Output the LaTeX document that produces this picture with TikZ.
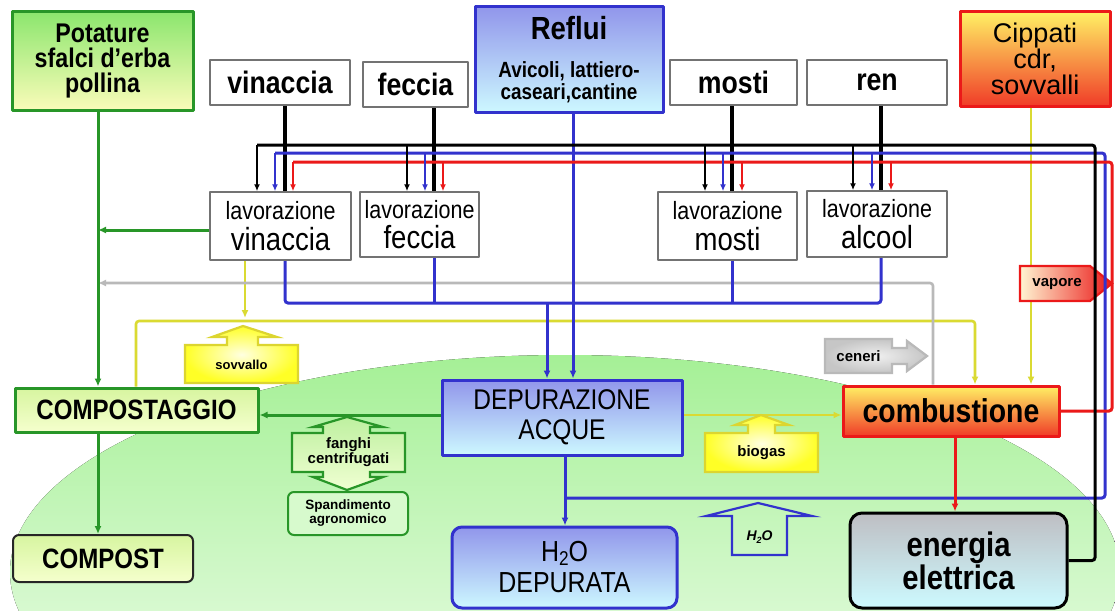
\documentclass[tikz,border=0pt]{standalone}
\usepackage{fontspec}
\setmainfont[FakeStretch=0.86]{Liberation Sans}
\newfontfamily\plainsans{Liberation Sans}
\usetikzlibrary{arrows.meta}
\newcommand\fsz[2]{\fontsize{#1}{#2}\selectfont}

\definecolor{cgreen}{RGB}{40,150,40}
\definecolor{cblue}{RGB}{50,50,205}
\definecolor{cred}{RGB}{235,25,25}
\definecolor{cyel}{RGB}{218,218,50}
\definecolor{cgray}{RGB}{185,185,185}
\definecolor{potTop}{RGB}{140,230,110}
\definecolor{potBot}{RGB}{250,252,185}
\definecolor{blTop}{RGB}{145,150,235}
\definecolor{blBot}{RGB}{205,248,255}
\definecolor{cipTop}{RGB}{255,240,100}
\definecolor{cipBot}{RGB}{240,60,40}
\definecolor{cmpTop}{RGB}{215,245,160}
\definecolor{cmpBot}{RGB}{245,255,205}
\definecolor{enTop}{RGB}{190,190,195}
\definecolor{enBot}{RGB}{205,250,255}
\definecolor{bgTop}{RGB}{165,240,150}
\definecolor{bgBot}{RGB}{250,255,248}
\definecolor{spFill}{RGB}{215,250,205}
\definecolor{fgTop}{RGB}{190,240,160}
\definecolor{fgBot}{RGB}{240,255,210}
\definecolor{vpPale}{RGB}{255,245,210}

\pgfdeclarelayer{ground}
\pgfdeclarelayer{yellowwires}
\pgfdeclarelayer{labels}
\pgfdeclarelayer{wires}
\pgfsetlayers{ground,yellowwires,labels,wires,main}

\begin{document}
\begin{tikzpicture}[x=1pt,y=-1pt,line join=round,
  txt/.style={inner sep=0pt,align=center},
  wbox/.style={draw=black!55,line width=1.5pt,fill=white,inner sep=0pt,align=center},
  gbox/.style={draw=cgreen,line width=3pt,inner sep=0pt,align=center,top color=potTop,bottom color=potBot},
  cbox/.style={draw=cgreen,line width=3pt,inner sep=0pt,align=center,top color=cmpTop,bottom color=cmpBot},
  bbox/.style={draw=cblue,line width=3pt,inner sep=0pt,align=center,top color=blTop,bottom color=blBot},
  rbox/.style={draw=cred,line width=3pt,inner sep=0pt,align=center,top color=cipTop,bottom color=cipBot},
  withtip/.style={-{Latex[length=8pt,width=7pt]}},
  droptip/.style={line width=1.6pt,-{Latex[length=7pt,width=6pt]}},
  lnbk/.style={draw=black,line width=3pt},
  lnbu/.style={draw=cblue,line width=3pt},
  lnrd/.style={draw=cred,line width=3pt},
  lngr/.style={draw=cgreen,line width=3pt},
  lnyl/.style={draw=cyel,line width=2.6pt},
  lngy/.style={draw=cgray,line width=2.6pt},
  ylabel/.style={draw=cyel!95!orange,line width=2.2pt,inner color=yellow!12,outer color=yellow!85},
  toplabel/.style={font=\fsz{31}{31}\bfseries}]
\useasboundingbox (0,0) rectangle (1115,610);

% ---------- background field ----------
\begin{pgfonlayer}{ground}
  \fill[white] (0,0) rectangle (1115,610);
  \begin{scope}
    \clip (0,0) rectangle (1115,610);
    \fill[top color=bgTop,bottom color=bgBot] (565,572) ellipse [x radius=555pt,y radius=217pt];
  \end{scope}
\end{pgfonlayer}

% ---------- sources ----------
\node[gbox,minimum width=181pt,minimum height=98pt,font=\fsz{27}{25}\bfseries] (pot) at (102.5,61) {Potature\\sfalci d’erba\\pollina};
\node[wbox,toplabel,minimum width=140pt,minimum height=45pt] (vin) at (280,82.5) {vinaccia};
\node[wbox,toplabel,minimum width=105pt,minimum height=45pt] (fec) at (415.5,84.5) {feccia};
\node[bbox,minimum width=188pt,minimum height=105pt] (reflui) at (569,59.5) {};
\node[txt,font=\fsz{32}{32}\bfseries] (refluiT) at (569,28.5) {Reflui};
\node[txt,font=\fsz{22}{22}\bfseries] (refluiS) at (569,82.5) {Avicoli, lattiero-\\caseari,cantine};
\node[wbox,toplabel,minimum width=127pt,minimum height=45pt] (mos) at (733.5,82.5) {mosti};
\node[wbox,toplabel,minimum width=140pt,minimum height=45pt] (ren) at (877,82.5) {ren};
\node[rbox,minimum width=150pt,minimum height=94pt,font=\plainsans\fsz{27}{26}] (cip) at (1035,59) {Cippati\\cdr,\\sovvalli};

% ---------- processing ----------
\node[wbox,minimum width=141pt,minimum height=68pt] (lvin) at (280.5,226) {\fsz{25}{25}lavorazione\\[6pt]\fsz{32}{25}vinaccia};
\node[wbox,minimum width=119pt,minimum height=65pt] (lfec) at (419.5,224.5) {\fsz{25}{25}lavorazione\\[6pt]\fsz{32}{25}feccia};
\node[wbox,minimum width=139pt,minimum height=68pt] (lmos) at (727.5,226) {\fsz{25}{25}lavorazione\\[6pt]\fsz{32}{25}mosti};
\node[wbox,minimum width=140pt,minimum height=66pt] (lalc) at (877,224) {\fsz{25}{25}lavorazione\\[6pt]\fsz{32}{25}alcool};

% ---------- treatment ----------
\node[cbox,minimum width=243pt,minimum height=44pt,font=\fsz{28}{28}\bfseries] (comps) at (136.5,410) {COMPOSTAGGIO};
\node[draw=black!85,line width=2pt,rounded corners=6pt,inner sep=0pt,top color=cmpTop,bottom color=cmpBot,
      minimum width=180pt,minimum height=47pt,font=\fsz{28}{28}\bfseries] (compost) at (103,558.5) {COMPOST};
\node[bbox,minimum width=240pt,minimum height=75pt,font=\fsz{28.5}{30}] (dep) at (562,417.5) {DEPURAZIONE\\ACQUE};
\node[bbox,rounded corners=10pt,minimum width=225pt,minimum height=81pt,font=\fsz{29}{31}] (h2od) at (564.5,567.5)
      {H\raisebox{-4pt}{\fsz{20}{20}2}O\\DEPURATA};
\node[draw=cred,line width=3pt,inner sep=0pt,top color=cipTop,bottom color=cipBot,
      minimum width=216pt,minimum height=50pt,font=\fsz{33}{33}\bfseries] (comb) at (951,411) {combustione};
\node[draw=black,line width=3pt,rounded corners=12pt,inner sep=0pt,align=center,top color=enTop,bottom color=enBot,
      minimum width=217pt,minimum height=95pt,font=\fsz{34}{33}\bfseries] (ene) at (958.5,560.5) {energia\\elettrica};
\node[draw=cgreen,line width=2pt,rounded corners=6pt,fill=spFill,inner sep=0pt,align=center,
      minimum width=120pt,minimum height=43pt,font=\plainsans\fsz{13.5}{14}\bfseries] (spand) at (348,513.5) {Spandimento\\agronomico};

% ---------- anchor points of the pipe network ----------
\coordinate (gx) at (98,0);
\coordinate (gy) at (0,230);
\coordinate (ly) at (0,415);
\coordinate (ax) at (933,283);
\coordinate (ys) at (245,318);
\coordinate (ybL) at (136,321);
\coordinate (ybR) at (975,321);
\coordinate (cy) at (1031,0);
\coordinate (f1) at (285,0);
\coordinate (f2) at (434,0);
\coordinate (f3) at (732,0);
\coordinate (f4) at (881,0);
\coordinate (wb1) at (285,303);
\coordinate (wb4) at (881,303);
\coordinate (wbd) at (547,303);
\coordinate (rf) at (573,0);
\coordinate (bw) at (565,498);
\coordinate (rx) at (955,0);
\coordinate (bkR) at (1095,145);
\coordinate (buR) at (1105,153);
\coordinate (rdR) at (1112,162);
\coordinate (bk1) at (257,145);
\coordinate (bk2) at (407,145);
\coordinate (bk3) at (705,145);
\coordinate (bk4) at (853,145);
\coordinate (bu1) at (275,153);
\coordinate (bu2) at (425,153);
\coordinate (bu3) at (723,153);
\coordinate (bu4) at (872,153);
\coordinate (rd1) at (293,162);
\coordinate (rd2) at (443,162);
\coordinate (rd3) at (742,162);
\coordinate (rd4) at (891,162);

% ---------- yellow and grey pipes (behind the labels) ----------
\begin{pgfonlayer}{yellowwires}
  \draw[lnyl,withtip] (cip.south -| cy) -- (comb.north -| cy);
  \draw[lnyl,withtip] (lvin.south -| ys) -- (ys);
  \draw[lnyl,withtip,rounded corners=3pt] (comps.north -| ybL) -- (ybL) -- (ybR) -- (comb.north -| ybR);
  \draw[lnyl,withtip] (dep.east |- ly) -- (comb.west |- ly);
  \draw[lngy,withtip,rounded corners=3pt] (comb.north -| ax) -- (ax) -- (gx |- ax);
\end{pgfonlayer}

% ---------- flow labels ----------
\begin{pgfonlayer}{labels}
  % sovvallo
  \filldraw[ylabel] (185,383) -- (185,345) -- (227,345) -- (227,337) -- (212,337) -- (243,326)
     -- (277,337) -- (258,337) -- (258,345) -- (298,345) -- (298,383) -- cycle;
  \node[txt,font=\plainsans\fsz{13}{13}\bfseries] (sovT) at (241.5,365) {sovvallo};
  % biogas
  \filldraw[ylabel] (705,472) -- (705,433) -- (748,433) -- (748,425) -- (735,425) -- (761,415)
     -- (789,425) -- (775,425) -- (775,433) -- (818,433) -- (818,472) -- cycle;
  \node[txt,font=\plainsans\fsz{15}{15}\bfseries] (bioT) at (761.5,453) {biogas};
  % fanghi centrifugati
  \filldraw[draw=cgreen,line width=2.2pt,top color=fgTop,bottom color=fgBot]
     (347,417) -- (383,427) -- (370,427) -- (370,433) -- (405,433) -- (405,472) -- (370,472) -- (370,477)
     -- (383,477) -- (347,490) -- (313,477) -- (323,477) -- (323,472) -- (292,472) -- (292,433)
     -- (323,433) -- (323,427) -- (313,427) -- cycle;
  \node[txt,font=\plainsans\fsz{15}{13}\bfseries] (fanT) at (348.5,452) {fanghi\\centrifugati};
  % H2O return
  \draw[draw=cblue,line width=2.2pt] (732,555) -- (732,516) -- (706,516) -- (758,503) -- (812,516)
     -- (787,516) -- (787,555) -- cycle;
  \node[txt,font=\plainsans\fsz{14}{14}\bfseries\itshape] (h2oT) at (759.5,537) {H\raisebox{-2.5pt}{\fsz{9}{9}2}O};
  % ceneri
  \filldraw[draw=cgray,line width=2.2pt,inner color=gray!12,outer color=gray!45]
     (825,339) -- (892,339) -- (892,348) -- (907,348) -- (907,341) -- (927,356) -- (907,371)
     -- (907,364) -- (892,364) -- (892,373) -- (825,373) -- cycle;
  \node[txt,font=\plainsans\fsz{15}{15}\bfseries] (cenT) at (858.5,356) {ceneri};
  % vapore
  \filldraw[draw=cred,line width=2.2pt,left color=vpPale,right color=cred]
     (1020,266) -- (1090,266) -- (1112,283.5) -- (1090,301) -- (1020,301) -- cycle;
  \node[txt,font=\plainsans\fsz{15}{15}\bfseries] (vapT) at (1057,284) {vapore};
\end{pgfonlayer}

% ---------- main pipes ----------
\begin{pgfonlayer}{wires}
  % residues towards composting
  \draw[lngr,withtip] (pot.south -| gx) -- (comps.north -| gx);
  \draw[lngr,withtip] (lvin.west |- gy) -- (gx |- gy);
  \draw[lngr,withtip] (dep.west |- ly) -- (comps.east |- ly);
  \draw[lngr,withtip] (comps.south -| gx) -- (compost.north -| gx);
  % raw materials into processing
  \foreach \s/\d/\f in {vin/lvin/f1,fec/lfec/f2,mos/lmos/f3,ren/lalc/f4}
    \draw[black,line width=4pt] (\s.south -| \f) -- (\d.north -| \f);
  % waste water collection
  \draw[lnbu,rounded corners=3pt] (lvin.south -| wb1) -- (wb1) -- (wb4) -- (lalc.south -| wb4);
  \draw[lnbu] (lfec.south -| f2) -- (f2 |- wb1);
  \draw[lnbu] (lmos.south -| f3) -- (f3 |- wb1);
  \draw[lnbu,withtip] (wbd) -- (wbd |- dep.north);
  \draw[lnbu,withtip] (reflui.south -| rf) -- (dep.north -| rf);
  \draw[lnbu,withtip] (dep.south -| bw) -- (h2od.north -| bw);
  % water, steam and power back to processing
  \draw[lnbu,rounded corners=3pt] (bw) -| (buR) -- (bu1);
  \draw[lnrd,rounded corners=3pt] (comb.east) -| (rdR) -- (rd1);
  \draw[lnbk,rounded corners=3pt] (ene.east) -| (bkR) -- (bk1);
  \foreach \c/\n in {bk1/lvin,bk2/lfec,bk3/lmos,bk4/lalc}
    \draw[black,droptip] (\c) -- (\c |- \n.north);
  \foreach \c/\n in {bu1/lvin,bu2/lfec,bu3/lmos,bu4/lalc}
    \draw[cblue,droptip] (\c) -- (\c |- \n.north);
  \foreach \c/\n in {rd1/lvin,rd2/lfec,rd3/lmos,rd4/lalc}
    \draw[cred,droptip] (\c) -- (\c |- \n.north);
  \draw[lnrd,withtip] (comb.south -| rx) -- (ene.north -| rx);
\end{pgfonlayer}
\end{tikzpicture}
\end{document}
